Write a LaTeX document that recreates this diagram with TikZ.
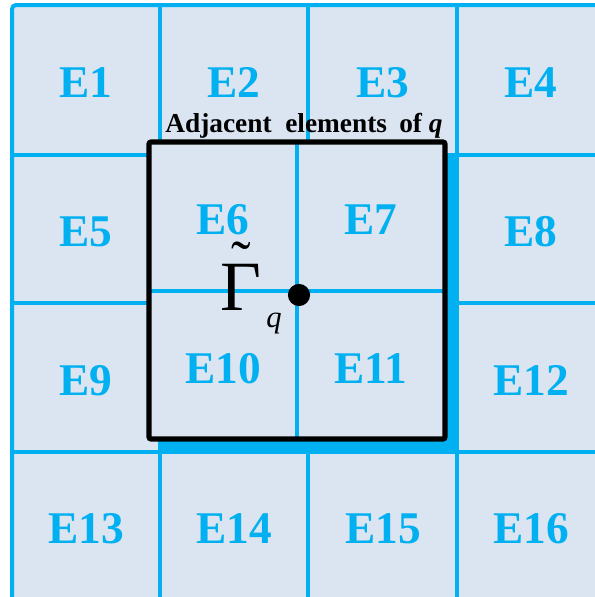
\documentclass[tikz,border=0pt]{standalone}
\usepackage{fontspec}
\setmainfont{Liberation Serif}
\usepackage{tikz}
\usetikzlibrary{positioning, calc}
\usepackage{xcolor}
\definecolor{elBlue}{RGB}{0, 176, 240}
\definecolor{elFill}{RGB}{219, 228, 241}

\begin{document}
\begin{tikzpicture}[x=0.75pt, y=-0.75pt,
          gline/.style={draw=elBlue, line width=3pt},
          elab/.style={anchor=base, inner sep=0pt, text=elBlue,
                       font=\fontsize{34}{34}\selectfont\bfseries},
          qbox/.style={draw=black, line width=3.8pt,
                       rounded corners=1.5pt}]
        \useasboundingbox (0,0) rectangle (595,597);
        \clip (0,0) rectangle (595,597);
        % background grid
        \fill[elFill, rounded corners=3pt] (12,5) rectangle (620,620);
        \draw[gline, rounded corners=3pt] (12,620) -- (12,5) -- (620,5);
        \draw[gline] (160,5) -- (160,620);
        \draw[gline] (308,5) -- (308,620);
        \draw[gline] (457,5) -- (457,620);
        \draw[gline] (12,155) -- (620,155);
        \draw[gline] (12,303) -- (620,303);
        \draw[gline] (12,452) -- (620,452);
        % shifted block of adjacent elements
        \fill[elBlue] (158,154) rectangle (458,454);
        \fill[elFill] (149,142) rectangle (445,439);
        \draw[gline] (297,142) -- (297,439);
        \draw[gline] (149,291) -- (445,291);
        \draw[qbox] (149,142) rectangle (445,439);
        \node[anchor=base, inner sep=0pt, font=\fontsize{20.5}{20.5}\selectfont\bfseries]
          (adj) at (304,132) {Adjacent\hspace{0.5em}elements\hspace{0.45em}of\hspace{0.25em}\textit{q}};
        % element labels
        \node[elab] (e1)  at ( 86, 97) {E1};
        \node[elab] (e2)  at (234, 97) {E2};
        \node[elab] (e3)  at (383, 97) {E3};
        \node[elab] (e4)  at (531, 97) {E4};
        \node[elab] (e5)  at ( 86,246) {E5};
        \node[elab] (e6)  at (223,234) {E6};
        \node[elab] (e7)  at (371,234) {E7};
        \node[elab] (e8)  at (531,246) {E8};
        \node[elab] (e9)  at ( 86,395) {E9};
        \node[elab] (e10) at (223,383) {E10};
        \node[elab] (e11) at (371,383) {E11};
        \node[elab] (e12) at (531,395) {E12};
        \node[elab] (e13) at ( 86,543) {E13};
        \node[elab] (e14) at (234,543) {E14};
        \node[elab] (e15) at (383,543) {E15};
        \node[elab] (e16) at (531,543) {E16};
        % point q
        \node[anchor=base, inner sep=0pt, font=\fontsize{53}{53}\selectfont] (gam) at (241,310)
          {\makebox[0pt][l]{\raisebox{0.41em}{\hspace{0.15em}\fontsize{44}{44}\selectfont ˜}}Γ};
        \node[anchor=base, inner sep=0pt, font=\fontsize{23}{23}\selectfont\itshape] (qs) at (274,327) {q};
        \fill (299,295) circle (8.3pt);
      \end{tikzpicture}
\end{document}
